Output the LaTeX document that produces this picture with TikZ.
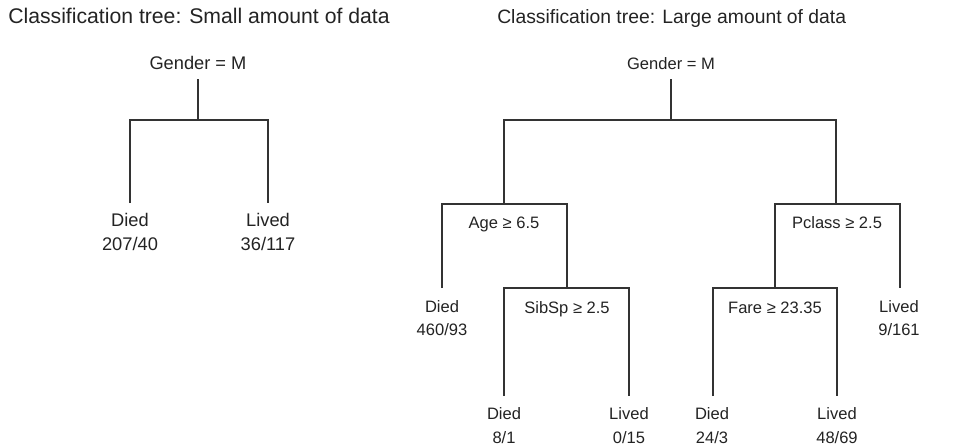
\documentclass[tikz,border=0pt]{standalone}
\usepackage{fontspec}
\setmainfont{Liberation Sans}
\definecolor{ink}{HTML}{232323}
\definecolor{wire}{HTML}{333333}
\begin{document}
\begin{tikzpicture}[x=0.75pt,y=-0.75pt,
  branch/.style={draw=wire, line width=0.8pt},
  lbl/.style={anchor=base, inner sep=0pt, text=ink},
  bigtitle/.style={lbl, anchor=base west, font=\fontsize{15.9}{19}\selectfont},
  midtitle/.style={lbl, anchor=base west, font=\fontsize{14.5}{17}\selectfont},
  bigtxt/.style={lbl, font=\fontsize{13.7}{16}\selectfont},
  midtxt/.style={lbl, font=\fontsize{12.4}{15}\selectfont}]
\useasboundingbox (0,0) rectangle (975,447);

% ---------- small tree ----------
\node[bigtitle] (ltitle) at (8,23) {Classification tree: Small amount of data};
\node[bigtxt] (lg) at (198,69) {Gender = M};
\node[bigtxt] (ld) at (130,226) {Died};
\node[bigtxt] (ldn) at (130,250) {207/40};
\node[bigtxt] (ll) at (268,226) {Lived};
\node[bigtxt] (lln) at (268,250) {36/117};

\coordinate (lstem) at (198,79);
\coordinate (lbar) at (198,120);
\coordinate (lend1) at (130,203);
\coordinate (lend2) at (268,203);
\draw[branch] (lstem) -- (lbar);
\draw[branch] (lend1) |- (lbar) -| (lend2);

% ---------- large tree ----------
\node[midtitle] (rtitle) at (497,23) {Classification tree: Large amount of data};
\node[midtxt] (rg) at (671,69) {Gender = M};

\node[midtxt] (age) at (504,228) {Age ≥ 6.5};
\node[midtxt] (pcl) at (837,228) {Pclass ≥ 2.5};
\node[midtxt] (sib) at (567,313) {SibSp ≥ 2.5};
\node[midtxt] (fare) at (775,313) {Fare ≥ 23.35};

\node[midtxt] (d2) at (442,312) {Died};
\node[midtxt] (d2n) at (442,335) {460/93};
\node[midtxt] (l2) at (899,312) {Lived};
\node[midtxt] (l2n) at (899,335) {9/161};

\node[midtxt] (d3) at (504,419) {Died};
\node[midtxt] (d3n) at (504,443) {8/1};
\node[midtxt] (l3) at (629,419) {Lived};
\node[midtxt] (l3n) at (629,443) {0/15};
\node[midtxt] (d4) at (712,419) {Died};
\node[midtxt] (d4n) at (712,443) {24/3};
\node[midtxt] (l4) at (837,419) {Lived};
\node[midtxt] (l4n) at (837,443) {48/69};

% split bars and branch ends
\coordinate (rstem) at (671,79);
\coordinate (rbar) at (671,120);
\coordinate (agebar) at (504,204);
\coordinate (pclbar) at (836,204);
\coordinate (diedA) at (442,288);
\coordinate (sibbar) at (567,288);
\coordinate (farebar) at (775,288);
\coordinate (livedA) at (900,288);
\coordinate (diedB) at (504,396);
\coordinate (livedB) at (629,396);
\coordinate (diedC) at (713,396);
\coordinate (livedC) at (837,396);

\draw[branch] (rstem) -- (rbar);
\draw[branch] (agebar) |- (rbar) -| (pclbar);
\draw[branch] (diedA) |- (agebar) -| (sibbar);
\draw[branch] (farebar) |- (pclbar) -| (livedA);
\draw[branch] (diedB) |- (sibbar) -| (livedB);
\draw[branch] (diedC) |- (farebar) -| (livedC);
\end{tikzpicture}
\end{document}
